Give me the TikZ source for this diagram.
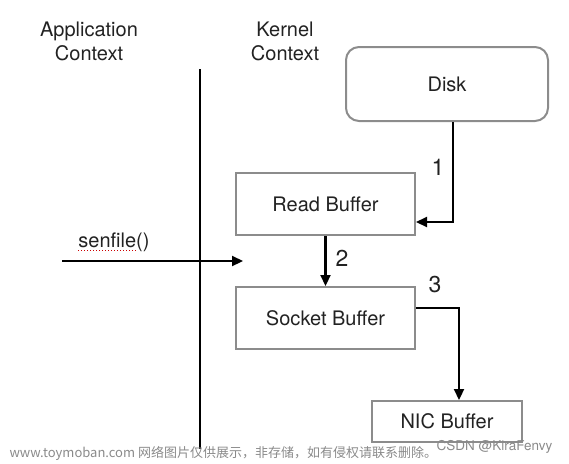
\documentclass[tikz,border=0pt]{standalone}
\usepackage{fontspec}
\setmainfont{TeX Gyre Heros}
\newfontfamily\cjk{Noto Sans CJK SC}
\usetikzlibrary{positioning,arrows.meta}
\definecolor{ink}{HTML}{222222}
\definecolor{edge}{HTML}{8C8C8C}
\definecolor{wmark}{HTML}{8A8A8A}

\begin{document}
\begin{tikzpicture}[x=1pt,y=-1pt,
  every node/.style={text=ink,font=\fontsize{20}{24}\selectfont},
  buf/.style={draw=edge,line width=2pt,inner sep=0pt,minimum width=179pt,minimum height=62pt},
  flow/.style={black,line width=2.2pt,-{Triangle[length=11pt,width=10pt]}},
  num/.style={font=\fontsize{23}{23}\selectfont}]
\useasboundingbox (0,0) rectangle (569,463);
% column headings
\node[align=center] (app) at (89,41) {Application\\Context};
\node[align=center] (kern) at (285,41) {Kernel\\Context};
% boundary between the two contexts
\coordinate (top) at (200,69);
\coordinate (bot) at (200,449);
\draw[black,line width=2.6pt] (top) -- (bot);
% buffers
\node[buf,rounded corners=13pt,minimum width=202pt,minimum height=74pt] (disk) at (447,84) {Disk};
\node[buf] (read) at (325.5,204) {Read Buffer};
\node[buf] (sock) at (325.5,318) {Socket Buffer};
\node[buf,minimum width=150pt,minimum height=41pt] (nic) at (447,421.5) {NIC Buffer};
% the call
\coordinate (callA) at (62,261);
\coordinate (callB) at (243,261);
\draw[flow] (callA) -- (callB);
\node (call) at (114,242) {senfile()};
\draw[red!80!black,line width=1pt,dotted] (78,250.5) -- (137,250.5);
% copies
\draw[flow] ([xshift=6pt]disk.south) |- ([yshift=-18pt]read.east);
\node[num] (n1) at (438,167) {1};
\draw[flow] (read.south) -- (sock.north);
\node[num] (n2) at (342,258) {2};
\draw[flow] ([yshift=10pt]sock.east) -| ([xshift=12pt]nic.north);
\node[num] (n3) at (435,285) {3};
% watermarks
\node[anchor=west,text=wmark,font=\cjk\fontsize{13}{14}\selectfont] (wm) at (6,453) {www.toymoban.com 网络图片仅供展示，非存储，如有侵权请联系删除。};
\node[anchor=east,text=wmark,font=\fontsize{13.5}{14}\selectfont] (csdn) at (556,447) {CSDN @KiraFenvy};
\end{tikzpicture}
\end{document}
